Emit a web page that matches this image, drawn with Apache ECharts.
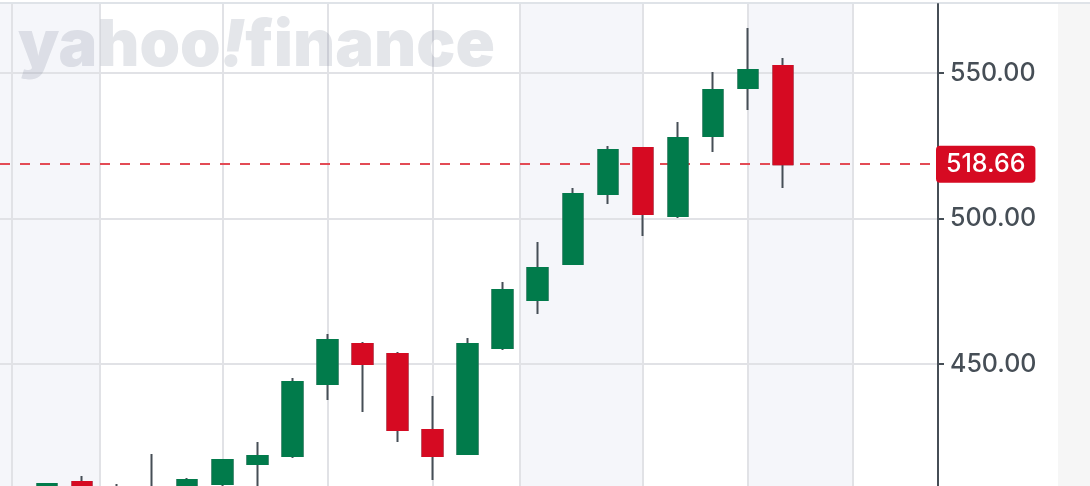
<!DOCTYPE html>
<html><head><meta charset="utf-8">
<script src="https://cdn.jsdelivr.net/npm/echarts@6/dist/echarts.min.js"></script>
<style>
html,body{margin:0;padding:0;background:#fff;}
#wrap{position:relative;width:1090px;height:486px;overflow:hidden;background:#fff;}
#topline{position:absolute;left:0;top:2px;width:1090px;height:2px;background:#dfe3e8;}
#strip{position:absolute;left:1058px;top:4px;width:32px;height:482px;background:#f6f6f6;}
#chart{position:absolute;left:0;top:0;width:1090px;height:486px;}
</style></head><body>
<div id="wrap"><div id="strip"></div><div id="topline"></div><div id="chart"></div></div>
<script>
// trading sessions (index along the time axis)
const sessions = [0,1,2,3,4,5,6,7,8,9,10,11,12,13,14,15,16,17,18,19,20,21];
const opens  = [405, 409.45, 403, 404, 405, 408.76, 415.64, 418.38, 443.13, 456.87, 453.44, 427.32, 419.07, 455.5, 471.99, 484.36, 508.42, 524.23, 500.86, 528.35, 544.85, 552.41];
const closes = [408.76, 405, 406, 406, 410.1, 417.01, 418.38, 443.81, 458.25, 450.0, 427.32, 418.38, 456.87, 475.43, 482.99, 508.42, 523.54, 501.55, 527.66, 544.16, 551.03, 518.66];
const lows   = [400, 402, 400, 398, 402, 406, 405, 417.7, 437.63, 433.5, 423.2, 410.14, 419.07, 454.8, 467.18, 484.36, 504.98, 493.99, 500.17, 522.85, 537.29, 510.48];
const highs  = [408.76, 411.5, 408.8, 419.07, 410.8, 417.3, 423.2, 445.19, 460.31, 457.56, 454.12, 439.0, 458.94, 478.18, 491.9, 510.48, 524.91, 524.3, 533.16, 550.34, 565.46, 555.15];
const priceTicks = [450, 500, 550];
const xMin = -1.341, xMax = 25.42;
const dateGridlines = [-1, 1.5, 5, 8, 11, 13.5, 17, 20, 23];
const shadedSpans = [[-1.34, 1.5], [13.5, 17], [20, 23]];

const candleData = sessions.map((d, i) => [d, opens[i], closes[i], lows[i], highs[i]]);
const bodyData = sessions.map((d, i) => [d, opens[i], closes[i], Math.min(opens[i], closes[i]), Math.max(opens[i], closes[i])]);
const lastClose = closes[closes.length - 1];

const UP = '#017b4b', DOWN = '#d60a22', WICK = '#464e56', GRID = '#e1e2e6';
const WM = 'rgba(120,130,150,0.2)';
const chart = echarts.init(document.getElementById('chart'));
chart.setOption({
  animation: false,
  grid: {left: 0, right: 152, top: 4, bottom: 0},
  xAxis: {type: 'value', min: xMin, max: xMax, show: false},
  yAxis: {
    type: 'value', position: 'right', min: 408.08, max: 573.71, z: 4,
    axisLine: {show: true, onZero: false, lineStyle: {color: WICK, width: 2}},
    axisTick: {show: true, length: 6, customValues: priceTicks, lineStyle: {color: WICK, width: 2}},
    axisLabel: {customValues: priceTicks, margin: 12, color: WICK, fontFamily: 'Inter', fontSize: 25, fontWeight: 500,
      formatter: v => v.toFixed(2)},
    splitLine: {show: true, lineStyle: {color: GRID, width: 2}}
  },
  graphic: [{
    type: 'text', left: 18, top: 14, z: 100, silent: true,
    style: {
      text: '{a|yahoo}{b|!}{a|finance}',
      rich: {
        a: {fontFamily: 'Inter', fontWeight: 900, fontSize: 65, fill: WM, color: WM},
        b: {fontFamily: 'Inter', fontWeight: 900, fontStyle: 'italic', fontSize: 65, fill: WM, color: WM}
      }
    }
  }],
  series: [
    {
      type: 'line', data: [], silent: true, z: 1,
      markArea: {silent: true, itemStyle: {color: '#f5f6fa'},
        data: shadedSpans.map(([a, b]) => [{xAxis: a}, {xAxis: b}])},
      markLine: {silent: true, z: 1, symbol: 'none', label: {show: false},
        lineStyle: {color: GRID, width: 2, type: 'solid'},
        data: dateGridlines.map(x => ({xAxis: x}))}
    },
    {
      type: 'candlestick', data: candleData, encode: {x: 0, y: [1, 2, 3, 4]},
      barWidth: 20, z: 10, silent: true,
      itemStyle: {color: UP, color0: DOWN, borderColor: WICK, borderColor0: WICK, borderWidth: 2},
      markLine: {silent: true, symbol: 'none', z: 5,
        lineStyle: {type: [10, 10], color: '#e34b55', width: 2},
        label: {show: true, position: 'end', distance: -2, formatter: lastClose.toFixed(2),
          backgroundColor: DOWN, color: '#fff', borderRadius: 4, padding: [6, 10, 6, 10],
          fontFamily: 'Inter', fontSize: 25, fontWeight: 500, lineHeight: 25},
        data: [{yAxis: lastClose}]}
    },
    {
      type: 'candlestick', data: bodyData, encode: {x: 0, y: [1, 2, 3, 4]},
      barWidth: 20, z: 11, silent: true,
      itemStyle: {color: UP, color0: DOWN, borderColor: UP, borderColor0: DOWN, borderWidth: 2}
    }
  ]
});
</script></body></html>
